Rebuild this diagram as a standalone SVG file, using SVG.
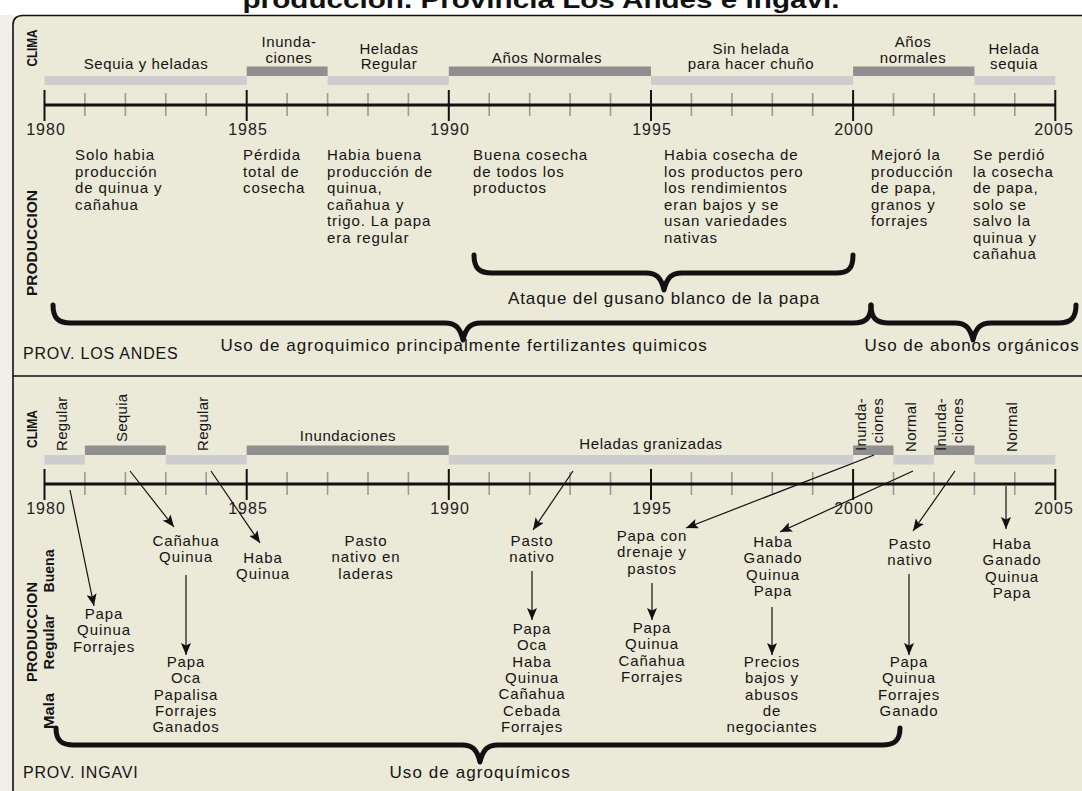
<svg xmlns="http://www.w3.org/2000/svg" width="1082" height="791" viewBox="0 0 1082 791">
<defs>
<style>
text{font-family:"Liberation Sans",Arial,Helvetica,sans-serif;fill:#141414}
.t{font-size:15px;letter-spacing:0.9px}
.c{text-anchor:middle}
.bl{font-size:15px;letter-spacing:0.6px;text-anchor:middle}
.v{font-size:15px;letter-spacing:0.3px}
.vb{font-size:14px;font-weight:bold}
.yr{font-size:16px;letter-spacing:1px;text-anchor:middle;fill:#222}
.lab{font-size:17px;letter-spacing:0.8px}
.prov{font-size:16px;letter-spacing:0.8px}
.light{fill:#cdcdcd}
.dark{fill:#8f8f8f}
.axis{stroke:#111;stroke-width:3.2}
.maj{stroke:#111;stroke-width:2}
.min{stroke:#9a9a9a;stroke-width:1.6}
.brace{fill:none;stroke:#111;stroke-width:5;stroke-linecap:round;stroke-linejoin:round}
.arr{fill:none;stroke:#111;stroke-width:1.2;marker-end:url(#ah)}
.frame{fill:none;stroke:#111;stroke-width:1.6}
</style>
<marker id="ah" viewBox="0 0 12 10" refX="12" refY="5" markerWidth="12" markerHeight="10" markerUnits="userSpaceOnUse" orient="auto">
<path d="M0,0 L12,5 L0,10 L2.5,5 z" fill="#111"/>
</marker>
<g id="ticks">
<line class="min" x1="84.9" y1="-12" x2="84.9" y2="11"/>
<line class="min" x1="125.4" y1="-12" x2="125.4" y2="11"/>
<line class="min" x1="165.8" y1="-12" x2="165.8" y2="11"/>
<line class="min" x1="206.2" y1="-12" x2="206.2" y2="11"/>
<line class="min" x1="287.1" y1="-12" x2="287.1" y2="11"/>
<line class="min" x1="327.6" y1="-12" x2="327.6" y2="11"/>
<line class="min" x1="368" y1="-12" x2="368" y2="11"/>
<line class="min" x1="408.4" y1="-12" x2="408.4" y2="11"/>
<line class="min" x1="489.2" y1="-12" x2="489.2" y2="11"/>
<line class="min" x1="529.7" y1="-12" x2="529.7" y2="11"/>
<line class="min" x1="570.1" y1="-12" x2="570.1" y2="11"/>
<line class="min" x1="610.5" y1="-12" x2="610.5" y2="11"/>
<line class="min" x1="691.4" y1="-12" x2="691.4" y2="11"/>
<line class="min" x1="731.9" y1="-12" x2="731.9" y2="11"/>
<line class="min" x1="772.3" y1="-12" x2="772.3" y2="11"/>
<line class="min" x1="812.7" y1="-12" x2="812.7" y2="11"/>
<line class="min" x1="893.5" y1="-12" x2="893.5" y2="11"/>
<line class="min" x1="934" y1="-12" x2="934" y2="11"/>
<line class="min" x1="974.4" y1="-12" x2="974.4" y2="11"/>
<line class="min" x1="1014.8" y1="-12" x2="1014.8" y2="11"/>
<line class="axis" x1="44.5" y1="0" x2="1055.3" y2="0"/>
<line class="maj" x1="44.5" y1="-15" x2="44.5" y2="16"/>
<line class="maj" x1="246.7" y1="-15" x2="246.7" y2="16"/>
<line class="maj" x1="448.8" y1="-15" x2="448.8" y2="16"/>
<line class="maj" x1="651" y1="-15" x2="651" y2="16"/>
<line class="maj" x1="853.1" y1="-15" x2="853.1" y2="16"/>
<line class="maj" x1="1055.3" y1="-15" x2="1055.3" y2="16"/>
<text class="yr" x="46" y="30">1980</text>
<text class="yr" x="248" y="30">1985</text>
<text class="yr" x="450" y="30">1990</text>
<text class="yr" x="652" y="30">1995</text>
<text class="yr" x="854" y="30">2000</text>
<text class="yr" x="1054" y="30">2005</text>
</g>
</defs>

<rect x="0" y="0" width="1082" height="791" fill="#ffffff"/>
<rect x="0" y="15" width="14" height="776" fill="#f1f0e8"/>
<path d="M13,791 V25 Q13,15.5 23,15.5 H1082 V791 Z" fill="#ebe9d7"/>

<g id="title">
<text x="541" y="8" class="c" style="font-size:24px;font-weight:bold;fill:#111" textLength="597" lengthAdjust="spacingAndGlyphs">producción. Provincia Los Andes e Ingavi.</text>
</g>

<g id="frame">
<path class="frame" d="M13,791 V25 Q13,15.5 23,15.5 H1082"/>
<line class="frame" x1="13" y1="376" x2="1082" y2="376"/>
</g>

<!-- ===== Upper panel: Prov. Los Andes ===== -->
<g id="andes-labels">
<text class="vb" transform="translate(37,48) rotate(-90)" text-anchor="middle" textLength="37" lengthAdjust="spacingAndGlyphs">CLIMA</text>
<text class="vb" transform="translate(37,243) rotate(-90)" text-anchor="middle" textLength="106" lengthAdjust="spacingAndGlyphs">PRODUCCION</text>
<text class="prov" x="23" y="359">PROV. LOS ANDES</text>
</g>

<g id="andes-clima">
<g id="a-clima-1"><rect class="light" x="44.5" y="76" width="202.2" height="9"/><text class="bl" x="146" y="69">Sequia y heladas</text></g>
<g id="a-clima-2"><rect class="dark" x="246.7" y="66.5" width="80.9" height="9.5"/><text class="bl" x="289" y="47">Inunda-<tspan x="289" dy="15.5">ciones</tspan></text></g>
<g id="a-clima-3"><rect class="light" x="327.6" y="76" width="121.2" height="9"/><text class="bl" x="389" y="53.5">Heladas<tspan x="389" dy="15.5">Regular</tspan></text></g>
<g id="a-clima-4"><rect class="dark" x="448.8" y="66.5" width="202.2" height="9.5"/><text class="bl" x="547" y="63">Años Normales</text></g>
<g id="a-clima-5"><rect class="light" x="651" y="76" width="202.1" height="9"/><text class="bl" x="751" y="53.5">Sin helada<tspan x="751" dy="15.5">para hacer chuño</tspan></text></g>
<g id="a-clima-6"><rect class="dark" x="853.1" y="66.5" width="121.3" height="9.5"/><text class="bl" x="913" y="47">Años<tspan x="913" dy="15.5">normales</tspan></text></g>
<g id="a-clima-7"><rect class="light" x="974.4" y="76" width="80.9" height="9"/><text class="bl" x="1014" y="53.5">Helada<tspan x="1014" dy="15.5">sequia</tspan></text></g>
</g>

<g id="andes-axis" transform="translate(0,105)"><use href="#ticks"/></g>

<g id="andes-produccion" class="t">
<text id="a-p-1980" x="75" y="160">Solo habia<tspan x="75" dy="16.5">producción</tspan><tspan x="75" dy="16.5">de quinua y</tspan><tspan x="75" dy="16.5">cañahua</tspan></text>
<text id="a-p-1985" x="243" y="160">Pérdida<tspan x="243" dy="16.5">total de</tspan><tspan x="243" dy="16.5">cosecha</tspan></text>
<text id="a-p-1987" x="327" y="160">Habia buena<tspan x="327" dy="16.5">producción de</tspan><tspan x="327" dy="16.5">quinua,</tspan><tspan x="327" dy="16.5">cañahua y</tspan><tspan x="327" dy="16.5">trigo. La papa</tspan><tspan x="327" dy="16.5">era regular</tspan></text>
<text id="a-p-1990" x="473" y="160">Buena cosecha<tspan x="473" dy="16.5">de todos los</tspan><tspan x="473" dy="16.5">productos</tspan></text>
<text id="a-p-1995" x="664" y="160">Habia cosecha de<tspan x="664" dy="16.5">los productos pero</tspan><tspan x="664" dy="16.5">los rendimientos</tspan><tspan x="664" dy="16.5">eran bajos y se</tspan><tspan x="664" dy="16.5">usan variedades</tspan><tspan x="664" dy="16.5">nativas</tspan></text>
<text id="a-p-2000" x="871" y="160">Mejoró la<tspan x="871" dy="16.5">producción</tspan><tspan x="871" dy="16.5">de papa,</tspan><tspan x="871" dy="16.5">granos y</tspan><tspan x="871" dy="16.5">forrajes</tspan></text>
<text id="a-p-2003" x="973" y="160">Se perdió<tspan x="973" dy="16.5">la cosecha</tspan><tspan x="973" dy="16.5">de papa,</tspan><tspan x="973" dy="16.5">solo se</tspan><tspan x="973" dy="16.5">salvo la</tspan><tspan x="973" dy="16.5">quinua y</tspan><tspan x="973" dy="16.5">cañahua</tspan></text>
</g>

<g id="andes-braces">
<g id="brace-gusano">
<path class="brace" d="M474,255 C474,268 479,273 492,273 L646,273 C656,273 661,277 664,290 C667,277 672,273 682,273 L836,273 C849,273 853,268 853,255"/>
<text class="lab c" x="664" y="304" textLength="312">Ataque del gusano blanco de la papa</text>
</g>
<g id="brace-agroquimico">
<path class="brace" d="M53,305 C53,318 58,323 71,323 L445,323 C455,323 460,327 463,340 C466,327 471,323 481,323 L853,323 C866,323 871,318 871,305"/>
<text class="lab c" x="464" y="351" textLength="487">Uso de agroquimico principalmente fertilizantes quimicos</text>
</g>
<g id="brace-abonos">
<path class="brace" d="M871,305 C871,318 876,323 889,323 L955,323 C965,323 970,327 973,340 C976,327 981,323 991,323 L1058,323 C1071,323 1076,318 1076,305"/>
<text class="lab c" x="972" y="351" textLength="215">Uso de abonos orgánicos</text>
</g>
</g>

<!-- ===== Lower panel: Prov. Ingavi ===== -->
<g id="ingavi-labels">
<text class="vb" transform="translate(37,429) rotate(-90)" text-anchor="middle" textLength="38" lengthAdjust="spacingAndGlyphs">CLIMA</text>
<text class="vb" transform="translate(37,632) rotate(-90)" text-anchor="middle" textLength="100" lengthAdjust="spacingAndGlyphs">PRODUCCION</text>
<text class="vb" transform="translate(54,571) rotate(-90)" text-anchor="middle" textLength="43" lengthAdjust="spacingAndGlyphs">Buena</text>
<text class="vb" transform="translate(54,642) rotate(-90)" text-anchor="middle" textLength="55" lengthAdjust="spacingAndGlyphs">Regular</text>
<text class="vb" transform="translate(54,711) rotate(-90)" text-anchor="middle" textLength="36" lengthAdjust="spacingAndGlyphs">Mala</text>
<text class="prov" x="23" y="778">PROV. INGAVI</text>
</g>

<g id="ingavi-clima">
<g id="i-clima-1"><rect class="light" x="44.5" y="455" width="40.4" height="9.5"/><text class="v" transform="translate(67,451) rotate(-90)">Regular</text></g>
<g id="i-clima-2"><rect class="dark" x="84.9" y="445.5" width="80.9" height="9.5"/><text class="v" transform="translate(127,442) rotate(-90)">Sequia</text></g>
<g id="i-clima-3"><rect class="light" x="165.8" y="455" width="80.9" height="9.5"/><text class="v" transform="translate(208,451) rotate(-90)">Regular</text></g>
<g id="i-clima-4"><rect class="dark" x="246.7" y="445.5" width="202.1" height="9.5"/><text class="bl" x="348" y="441">Inundaciones</text></g>
<g id="i-clima-5"><rect class="light" x="448.8" y="455" width="404.3" height="9.5"/><text class="bl" x="651" y="449">Heladas granizadas</text></g>
<g id="i-clima-6"><rect class="dark" x="853.1" y="445.5" width="40.4" height="9.5"/><text class="v" transform="translate(866,398) rotate(-90)" text-anchor="end">Inunda-</text><text class="v" transform="translate(883,398) rotate(-90)" text-anchor="end">ciones</text></g>
<g id="i-clima-7"><rect class="light" x="893.5" y="455" width="40.5" height="9.5"/><text class="v" transform="translate(916,452) rotate(-90)">Normal</text></g>
<g id="i-clima-8"><rect class="dark" x="934" y="445.5" width="40.4" height="9.5"/><text class="v" transform="translate(946,398) rotate(-90)" text-anchor="end">Inunda-</text><text class="v" transform="translate(963,398) rotate(-90)" text-anchor="end">ciones</text></g>
<g id="i-clima-9"><rect class="light" x="974.4" y="455" width="80.9" height="9.5"/><text class="v" transform="translate(1017,452) rotate(-90)">Normal</text></g>
</g>

<g id="ingavi-axis" transform="translate(0,484)"><use href="#ticks"/></g>

<g id="ingavi-produccion" class="t c">
<text id="i-p-1" x="104" y="619">Papa<tspan x="104" dy="16.3">Quinua</tspan><tspan x="104" dy="16.3">Forrajes</tspan></text>
<text id="i-p-2" x="186" y="546">Cañahua<tspan x="186" dy="16.3">Quinua</tspan></text>
<text id="i-p-3" x="186" y="667">Papa<tspan x="186" dy="16.3">Oca</tspan><tspan x="186" dy="16.3">Papalisa</tspan><tspan x="186" dy="16.3">Forrajes</tspan><tspan x="186" dy="16.3">Ganados</tspan></text>
<text id="i-p-4" x="263" y="563">Haba<tspan x="263" dy="16.3">Quinua</tspan></text>
<text id="i-p-5" x="366" y="546">Pasto<tspan x="366" dy="16.3">nativo en</tspan><tspan x="366" dy="16.3">laderas</tspan></text>
<text id="i-p-6" x="532" y="546">Pasto<tspan x="532" dy="16.3">nativo</tspan></text>
<text id="i-p-7" x="532" y="634">Papa<tspan x="532" dy="16.3">Oca</tspan><tspan x="532" dy="16.3">Haba</tspan><tspan x="532" dy="16.3">Quinua</tspan><tspan x="532" dy="16.3">Cañahua</tspan><tspan x="532" dy="16.3">Cebada</tspan><tspan x="532" dy="16.3">Forrajes</tspan></text>
<text id="i-p-8" x="652" y="541">Papa con<tspan x="652" dy="16.3">drenaje y</tspan><tspan x="652" dy="16.3">pastos</tspan></text>
<text id="i-p-9" x="652" y="633">Papa<tspan x="652" dy="16.3">Quinua</tspan><tspan x="652" dy="16.3">Cañahua</tspan><tspan x="652" dy="16.3">Forrajes</tspan></text>
<text id="i-p-10" x="773" y="547">Haba<tspan x="773" dy="16.3">Ganado</tspan><tspan x="773" dy="16.3">Quinua</tspan><tspan x="773" dy="16.3">Papa</tspan></text>
<text id="i-p-11" x="772" y="667">Precios<tspan x="772" dy="16.3">bajos y</tspan><tspan x="772" dy="16.3">abusos</tspan><tspan x="772" dy="16.3">de</tspan><tspan x="772" dy="16.3">negociantes</tspan></text>
<text id="i-p-12" x="910" y="549">Pasto<tspan x="910" dy="16.3">nativo</tspan></text>
<text id="i-p-13" x="909" y="667">Papa<tspan x="909" dy="16.3">Quinua</tspan><tspan x="909" dy="16.3">Forrajes</tspan><tspan x="909" dy="16.3">Ganado</tspan></text>
<text id="i-p-14" x="1012" y="549">Haba<tspan x="1012" dy="16.3">Ganado</tspan><tspan x="1012" dy="16.3">Quinua</tspan><tspan x="1012" dy="16.3">Papa</tspan></text>
</g>

<g id="connectors">
<line class="arr" x1="70" y1="490" x2="94" y2="606"/>
<line class="arr" x1="130" y1="471" x2="174" y2="527"/>
<line class="arr" x1="211" y1="471" x2="260" y2="543"/>
<line class="arr" x1="186" y1="575" x2="186" y2="655"/>
<line class="arr" x1="573" y1="471" x2="533" y2="530"/>
<line class="arr" x1="532" y1="571" x2="532" y2="620"/>
<line class="arr" x1="874" y1="455" x2="686" y2="528"/>
<line class="arr" x1="652" y1="583" x2="652" y2="620"/>
<line class="arr" x1="913" y1="471" x2="780" y2="532"/>
<line class="arr" x1="772" y1="607" x2="772" y2="655"/>
<line class="arr" x1="955" y1="471" x2="913" y2="531"/>
<line class="arr" x1="909" y1="574" x2="909" y2="655"/>
<line class="arr" x1="1006" y1="486" x2="1006" y2="529"/>
</g>

<g id="ingavi-braces">
<g id="brace-ingavi">
<path class="brace" d="M56,728 C56,740 61,745 74,745 L462,745 C472,745 477,749 480,762 C483,749 488,745 498,745 L882,745 C895,745 900,740 900,728"/>
<text class="lab c" x="480" y="778" textLength="181">Uso de agroquímicos</text>
</g>
</g>
</svg>
